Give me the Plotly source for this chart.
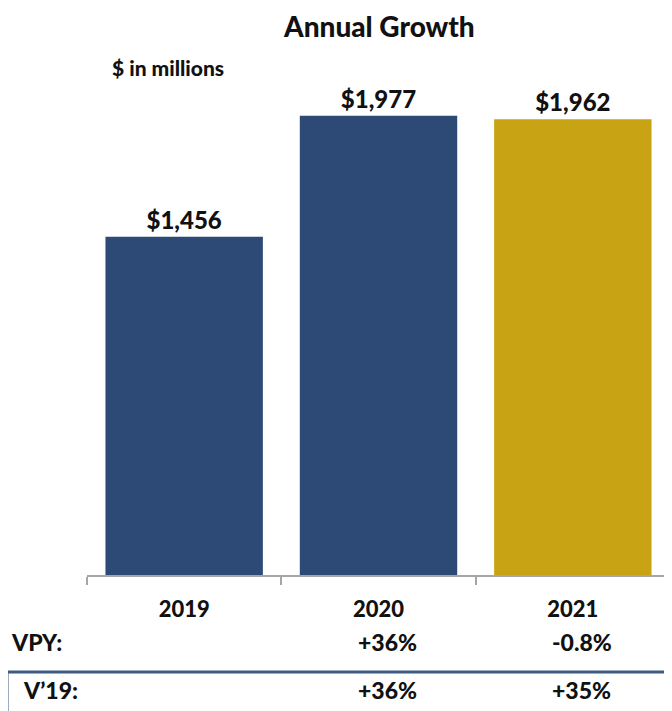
import plotly.graph_objects as go

years = ["2019", "2020", "2021"]
revenue = [1456, 1977, 1962]
value_labels = ["$1,456", "$1,977", "$1,962"]
bar_colors = ["#2c4a75", "#2c4a75", "#c8a415"]
vpy_labels = ["", "+36%", "-0.8%"]
v19_labels = ["", "+36%", "+35%"]

FONT = "Lato"
WT = 900
INK = "#111111"
# page has an 8px body margin, so the figure is drawn 8px in from the top-left
OFF = 8
W, H = 672 - OFF, 711 - OFF
PL, PR, PT, PB = 87, 670, 64, 575  # plot area in reference pixels
L, R, T, B = PL - OFF, W - (PR - OFF), PT - OFF, H - (PB - OFF)
PCT_SHIFT = 0.045  # percentages sit slightly right of category centre

def py(pix):
    return (PB - pix) / (PB - PT)

def px(pix):
    return (pix - PL) / (PR - PL)

def f(size):
    return dict(family=FONT, size=size, color=INK, weight=WT)

fig = go.Figure()
fig.add_trace(go.Bar(
    x=years, y=revenue, width=0.81,
    marker=dict(color=bar_colors, line=dict(width=0)),
    text=value_labels, textposition="outside", cliponaxis=False,
    textfont=f(24),
))

ann = []
ann.append(dict(text="Annual Growth", x=px(379), y=py(26), xref="paper", yref="paper",
                xanchor="center", yanchor="middle", showarrow=False, font=f(28)))
ann.append(dict(text="$ in millions", x=px(110), y=py(67), xref="paper", yref="paper",
                xanchor="left", yanchor="middle", showarrow=False, font=f(21)))
ann.append(dict(text="VPY:", x=px(9), y=py(642), xref="paper", yref="paper",
                xanchor="left", yanchor="middle", showarrow=False, font=f(23)))
ann.append(dict(text="V\u201919:", x=px(21), y=py(690), xref="paper", yref="paper",
                xanchor="left", yanchor="middle", showarrow=False, font=f(23)))
for i, (a, b) in enumerate(zip(vpy_labels, v19_labels)):
    if a:
        ann.append(dict(text=a, x=i + PCT_SHIFT, y=py(642), xref="x", yref="paper",
                        xanchor="center", yanchor="middle", showarrow=False, font=f(23)))
    if b:
        ann.append(dict(text=b, x=i + PCT_SHIFT, y=py(690), xref="x", yref="paper",
                        xanchor="center", yanchor="middle", showarrow=False, font=f(23)))

shapes = [dict(type="rect", xref="paper", yref="paper", x0=px(7), x1=px(690), y0=py(672), y1=py(730),
               line=dict(color="#3e5a80", width=3), fillcolor="rgba(0,0,0,0)")]

fig.update_layout(
    width=W, height=H, margin=dict(l=L, r=R, t=T, b=B),
    paper_bgcolor="white", plot_bgcolor="white",
    showlegend=False, annotations=ann, shapes=shapes,
    xaxis=dict(type="category", range=[-0.5, 2.5], showline=True, linecolor="#a6a6a6", linewidth=1.5,
               ticks="outside", tickson="boundaries", ticklen=8, tickcolor="#a6a6a6", tickwidth=1.5,
               tickfont=f(22), ticklabelstandoff=14, showgrid=False, zeroline=False),
    yaxis=dict(range=[0, 2200], visible=False, showgrid=False, zeroline=False),
)
fig.write_html("out.html")
